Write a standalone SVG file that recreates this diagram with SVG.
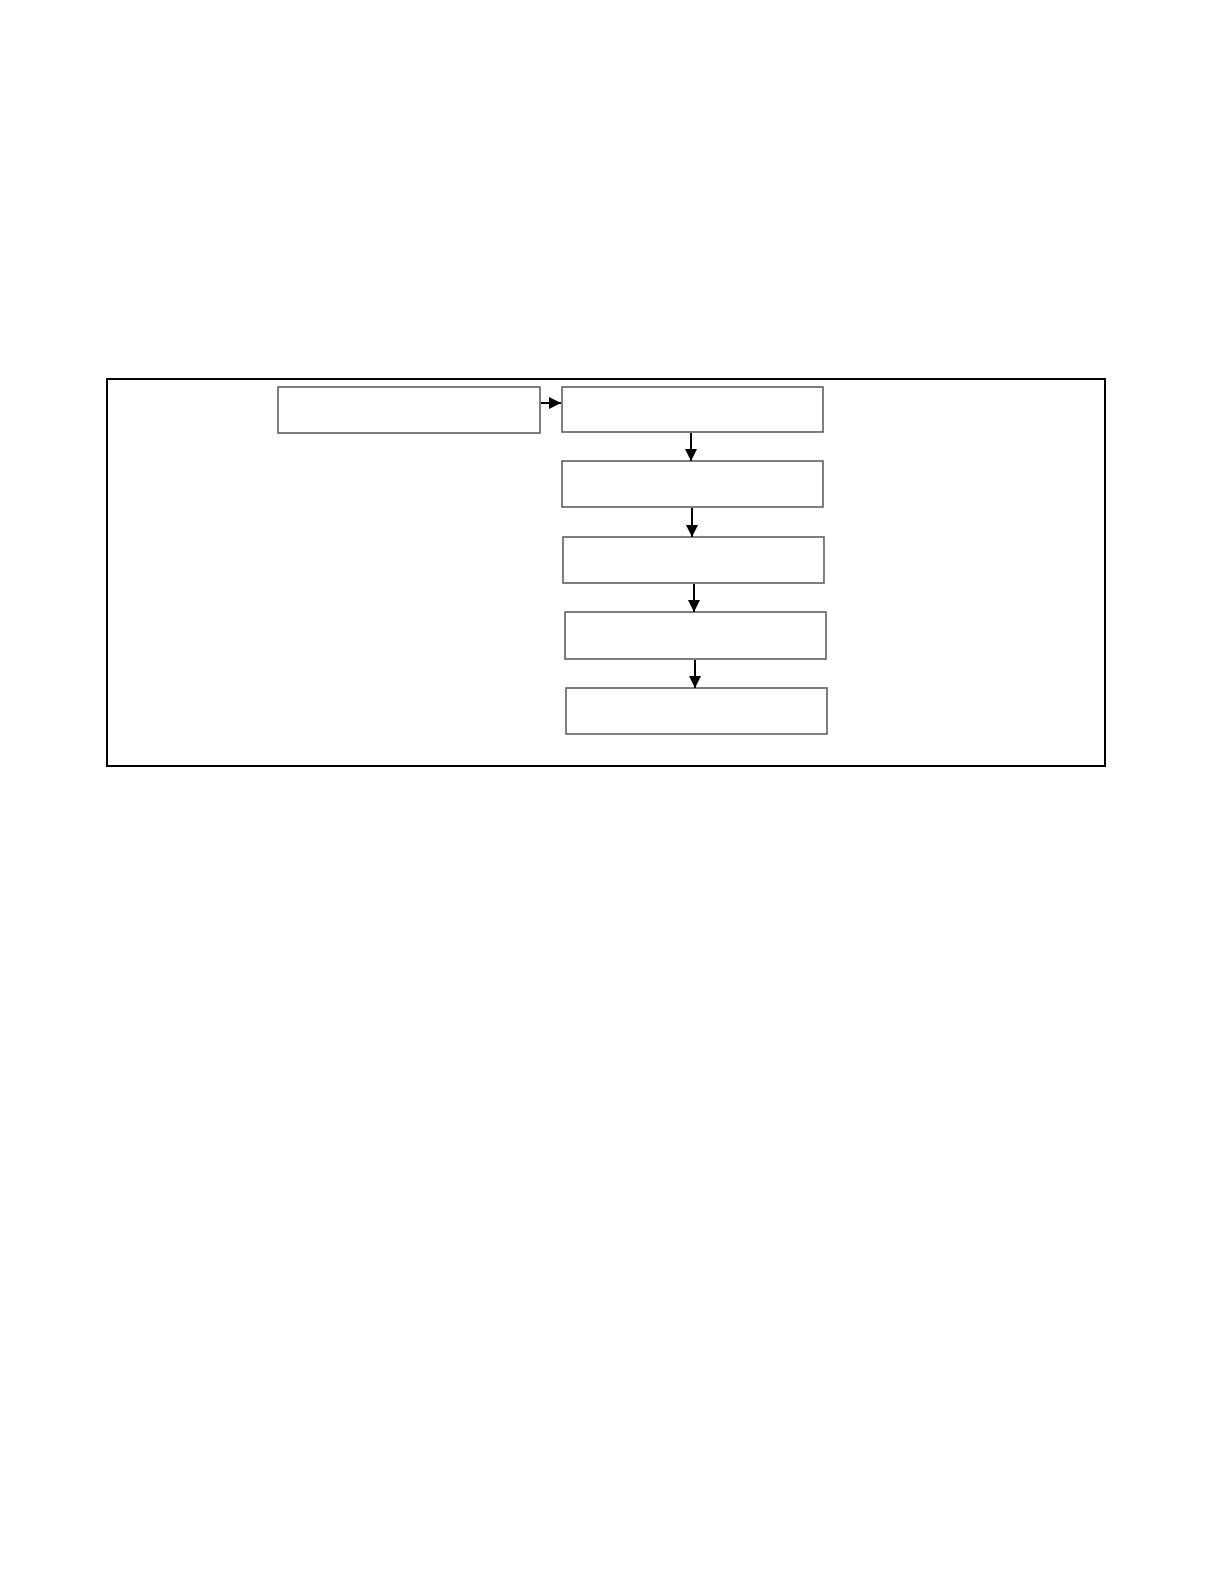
<svg xmlns="http://www.w3.org/2000/svg" width="1224" height="1584" viewBox="0 0 1224 1584">
<style>
.node{fill:#fff;stroke:#555;stroke-width:1.5}
.edge{stroke:#000;stroke-width:2;fill:none}
</style>
<defs>
<marker id="ah" markerWidth="6" markerHeight="6" refX="6" refY="3" orient="auto" markerUnits="strokeWidth">
<path d="M0,0 L6,3 L0,6 Z" fill="#000"/>
</marker>
</defs>
<rect width="1224" height="1584" fill="#fff"/>
<rect x="107" y="379" width="998" height="387" fill="none" stroke="#000" stroke-width="2"/>
<g id="n1"><rect class="node" x="278" y="387" width="262" height="46"/></g>
<g id="n2"><rect class="node" x="562" y="387" width="261" height="45"/></g>
<g id="n3"><rect class="node" x="562" y="461" width="261" height="46"/></g>
<g id="n4"><rect class="node" x="563" y="537" width="261" height="46"/></g>
<g id="n5"><rect class="node" x="565" y="612" width="261" height="47"/></g>
<g id="n6"><rect class="node" x="566" y="688" width="261" height="46"/></g>
<g id="connectors">
<line class="edge" x1="541" y1="403" x2="561" y2="403" marker-end="url(#ah)"/>
<line class="edge" x1="691" y1="433" x2="691" y2="461" marker-end="url(#ah)"/>
<line class="edge" x1="692" y1="508" x2="692" y2="537" marker-end="url(#ah)"/>
<line class="edge" x1="694" y1="584" x2="694" y2="612" marker-end="url(#ah)"/>
<line class="edge" x1="695" y1="660" x2="695" y2="688" marker-end="url(#ah)"/>
</g>
</svg>
